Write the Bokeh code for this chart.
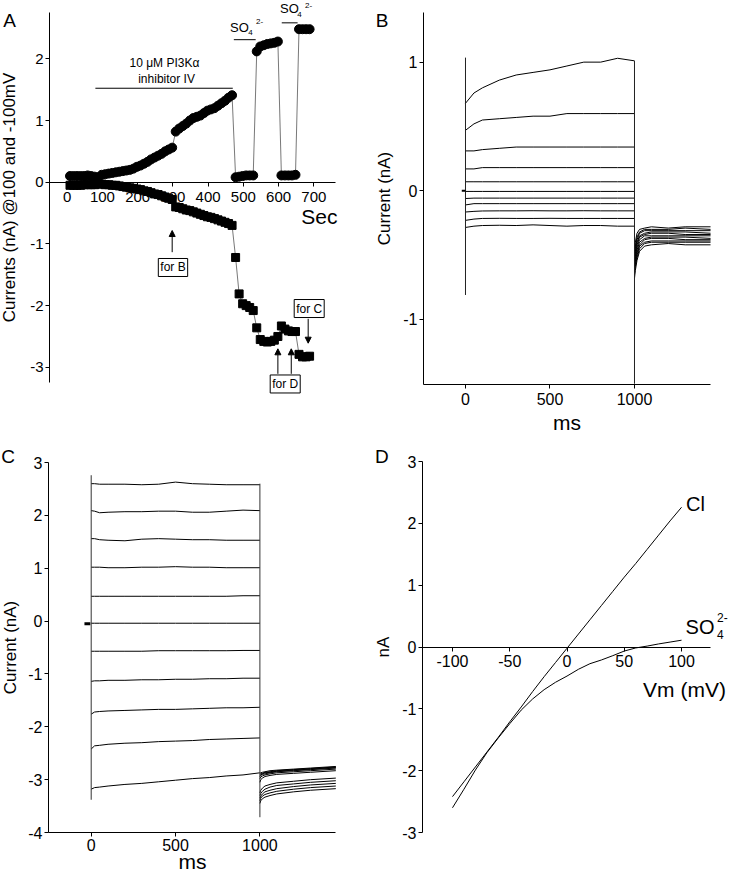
from bokeh.plotting import figure
from bokeh.layouts import column, row
from bokeh.models import Label, Arrow, NormalHead, Range1d
from bokeh.embed import file_html
from bokeh.resources import INLINE

FONT = "Liberation Sans"

# ---------------- Panel A data (time course) ----------------
A_time = [8, 18, 28, 38, 48, 58, 68, 78, 88, 98, 108, 118, 128, 138, 148, 158, 168, 178,
          188, 198, 208, 218, 228, 238, 248, 258, 268, 278, 288, 298, 308, 318, 328, 338,
          348, 358, 368, 378, 388, 398, 408, 418, 428, 438, 448, 458, 468, 478, 488, 498,
          508, 518, 528, 538, 548, 558, 568, 578, 588, 598, 608, 618, 628, 638, 648, 658,
          668, 678, 688]
A_pos100 = [0.10, 0.10, 0.10, 0.10, 0.10, 0.11, 0.10, 0.09, 0.08, 0.12, 0.13, 0.14, 0.15,
            0.16, 0.17, 0.18, 0.19, 0.20, 0.22, 0.25, 0.27, 0.30, 0.33, 0.37, 0.40, 0.43,
            0.46, 0.50, 0.53, 0.56, 0.82, 0.87, 0.91, 0.95, 1.00, 1.04, 1.06, 1.08, 1.12,
            1.16, 1.18, 1.20, 1.24, 1.28, 1.32, 1.37, 1.41, 0.08, 0.09, 0.10, 0.11, 0.11,
            0.11, 2.12, 2.20, 2.22, 2.24, 2.25, 2.26, 2.28, 0.11, 0.11, 0.11, 0.11, 0.12,
            2.48, 2.48, 2.48, 2.48]
A_neg100 = [-0.05, -0.05, -0.05, -0.05, -0.04, -0.04, -0.04, -0.04, -0.03, -0.03, -0.04,
            -0.04, -0.05, -0.05, -0.06, -0.07, -0.08, -0.09, -0.10, -0.11, -0.12, -0.14,
            -0.15, -0.17, -0.19, -0.20, -0.22, -0.24, -0.26, -0.28, -0.40, -0.41, -0.43,
            -0.45, -0.46, -0.48, -0.50, -0.52, -0.54, -0.56, -0.57, -0.59, -0.61, -0.63,
            -0.65, -0.67, -0.70, -1.22, -1.81, -1.97, -2.00, -2.03, -2.08, -2.36, -2.55,
            -2.58, -2.59, -2.58, -2.56, -2.50, -2.33, -2.38, -2.41, -2.42, -2.42, -2.79,
            -2.83, -2.83, -2.82]
A_xticks = [0, 100, 200, 300, 400, 500, 600, 700]
A_yticks = [-3, -2, -1, 0, 1, 2]

# ---------------- Panel B data (current traces, inhibitor) ----------------
B_t = [0, 50, 100, 200, 300, 400, 500, 600, 700, 800, 900, 1000]
B_steps = [
    [0.68, 0.76, 0.80, 0.86, 0.90, 0.92, 0.94, 0.97, 1.00, 1.00, 1.03, 1.01],
    [0.47, 0.52, 0.55, 0.56, 0.57, 0.58, 0.58, 0.60, 0.60, 0.60, 0.60, 0.60],
    [0.31, 0.31, 0.32, 0.33, 0.34, 0.34, 0.34, 0.34, 0.34, 0.34, 0.34, 0.34],
    [0.17, 0.17, 0.18, 0.18, 0.18, 0.18, 0.18, 0.18, 0.18, 0.18, 0.18, 0.18],
    [0.07, 0.07, 0.07, 0.07, 0.07, 0.07, 0.07, 0.07, 0.07, 0.07, 0.07, 0.07],
    [-0.005, -0.005, -0.005, -0.005, -0.005, -0.005, -0.005, -0.005, -0.005, -0.005, -0.005, -0.005],
    [-0.06, -0.057, -0.057, -0.057, -0.057, -0.057, -0.057, -0.057, -0.057, -0.057, -0.057, -0.057],
    [-0.11, -0.10, -0.10, -0.10, -0.10, -0.10, -0.10, -0.10, -0.10, -0.10, -0.10, -0.10],
    [-0.165, -0.16, -0.157, -0.156, -0.156, -0.155, -0.156, -0.156, -0.155, -0.156, -0.156, -0.156],
    [-0.23, -0.22, -0.215, -0.214, -0.215, -0.215, -0.214, -0.215, -0.215, -0.215, -0.215, -0.215],
    [-0.285, -0.275, -0.27, -0.268, -0.27, -0.265, -0.27, -0.275, -0.27, -0.27, -0.275, -0.275],
]
B_tail_t = [1000, 1005, 1015, 1030, 1060, 1100, 1200, 1300, 1450]
B_tails = [
    [-0.45, -0.40, -0.33, -0.30, -0.29, -0.28, -0.29, -0.28, -0.28],
    [-0.48, -0.43, -0.36, -0.32, -0.30, -0.30, -0.30, -0.29, -0.30],
    [-0.50, -0.45, -0.38, -0.33, -0.31, -0.31, -0.31, -0.31, -0.31],
    [-0.52, -0.47, -0.40, -0.35, -0.33, -0.32, -0.32, -0.32, -0.33],
    [-0.54, -0.49, -0.42, -0.36, -0.34, -0.33, -0.33, -0.34, -0.34],
    [-0.56, -0.51, -0.44, -0.38, -0.35, -0.35, -0.35, -0.35, -0.35],
    [-0.58, -0.53, -0.46, -0.40, -0.37, -0.36, -0.36, -0.36, -0.37],
    [-0.60, -0.55, -0.48, -0.42, -0.38, -0.37, -0.37, -0.38, -0.38],
    [-0.62, -0.57, -0.50, -0.43, -0.40, -0.39, -0.39, -0.39, -0.39],
    [-0.65, -0.59, -0.52, -0.45, -0.41, -0.40, -0.40, -0.40, -0.40],
    [-0.68, -0.62, -0.54, -0.47, -0.43, -0.42, -0.41, -0.42, -0.42],
]
B_transient_t = [0, 1000]
B_transient_top = [1.035, 1.01]
B_transient_bot = [-0.81, -1.50]
B_xticks = [0, 500, 1000]
B_yticks = [-1, 0, 1]

# ---------------- Panel C data (current traces, SO4) ----------------
C_t = [0, 20, 50, 100, 200, 300, 400, 500, 600, 700, 800, 900, 1000]
C_steps = [
    [2.60, 2.60, 2.59, 2.59, 2.59, 2.58, 2.59, 2.63, 2.60, 2.59, 2.58, 2.58, 2.58],
    [2.09, 2.08, 2.05, 2.06, 2.07, 2.07, 2.08, 2.08, 2.06, 2.06, 2.08, 2.10, 2.09],
    [1.56, 1.56, 1.54, 1.53, 1.52, 1.55, 1.56, 1.55, 1.54, 1.54, 1.53, 1.53, 1.53],
    [1.02, 1.02, 1.02, 1.01, 1.01, 1.02, 1.02, 1.03, 1.02, 1.02, 1.01, 1.01, 1.01],
    [0.47, 0.47, 0.47, 0.47, 0.47, 0.47, 0.47, 0.47, 0.47, 0.47, 0.47, 0.48, 0.48],
    [-0.04, -0.04, -0.04, -0.04, -0.04, -0.04, -0.04, -0.04, -0.04, -0.04, -0.04, -0.04, -0.04],
    [-0.57, -0.57, -0.57, -0.57, -0.57, -0.57, -0.56, -0.56, -0.56, -0.56, -0.56, -0.555, -0.555],
    [-1.14, -1.13, -1.13, -1.12, -1.12, -1.11, -1.11, -1.10, -1.10, -1.09, -1.09, -1.08, -1.08],
    [-1.76, -1.72, -1.71, -1.70, -1.69, -1.68, -1.67, -1.67, -1.66, -1.65, -1.64, -1.64, -1.63],
    [-2.42, -2.36, -2.35, -2.33, -2.31, -2.30, -2.28, -2.27, -2.26, -2.24, -2.23, -2.22, -2.21],
    [-3.18, -3.15, -3.14, -3.12, -3.09, -3.07, -3.04, -3.01, -2.98, -2.96, -2.93, -2.91, -2.87],
]
C_tail_t = [1000, 1005, 1015, 1030, 1060, 1100, 1200, 1300, 1450]
C_tails = [
    [-2.88, -2.87, -2.86, -2.85, -2.83, -2.82, -2.80, -2.78, -2.75],
    [-2.90, -2.89, -2.88, -2.86, -2.85, -2.83, -2.81, -2.79, -2.76],
    [-2.92, -2.91, -2.89, -2.87, -2.86, -2.84, -2.82, -2.80, -2.77],
    [-2.94, -2.92, -2.90, -2.89, -2.87, -2.85, -2.83, -2.81, -2.78],
    [-2.98, -2.95, -2.93, -2.91, -2.89, -2.87, -2.85, -2.83, -2.80],
    [-3.05, -3.00, -2.97, -2.94, -2.92, -2.90, -2.88, -2.86, -2.83],
    [-3.25, -3.20, -3.16, -3.12, -3.09, -3.06, -3.03, -3.00, -2.97],
    [-3.30, -3.26, -3.22, -3.18, -3.14, -3.11, -3.08, -3.05, -3.02],
    [-3.35, -3.31, -3.27, -3.23, -3.20, -3.17, -3.13, -3.10, -3.07],
    [-3.40, -3.35, -3.31, -3.28, -3.25, -3.22, -3.18, -3.15, -3.12],
    [-3.45, -3.40, -3.36, -3.33, -3.30, -3.27, -3.23, -3.20, -3.17],
]
C_transient_t = [0, 1000]
C_transient_top = [2.76, 2.60]
C_transient_bot = [-3.38, -3.71]
C_xticks = [0, 500, 1000]
C_yticks = [-4, -3, -2, -1, 0, 1, 2, 3]

# ---------------- Panel D data (I-V) ----------------
D_vm = [-100, -90, -80, -70, -60, -50, -40, -30, -20, -10, 0, 10, 20, 30, 40, 50, 60, 70, 80, 90, 100]
D_cl = [-2.42, -2.18, -1.94, -1.70, -1.46, -1.21, -0.97, -0.72, -0.48, -0.25, -0.02, 0.21,
        0.44, 0.67, 0.90, 1.13, 1.35, 1.58, 1.81, 2.04, 2.26]
D_so4 = [-2.60, -2.30, -1.99, -1.71, -1.47, -1.24, -1.02, -0.84, -0.69, -0.57, -0.47, -0.36,
         -0.27, -0.21, -0.14, -0.065, -0.015, 0.015, 0.05, 0.08, 0.11]
D_xticks = [-100, -50, 0, 50, 100]
D_yticks = [-3, -2, -1, 0, 1, 2, 3]


def make_fig(w, h, xr, yr):
    p = figure(width=w, height=h, x_range=Range1d(*xr), y_range=Range1d(*yr),
               output_backend="svg", toolbar_location=None,
               min_border_left=0, min_border_right=0, min_border_top=0, min_border_bottom=0)
    p.outline_line_color = None
    p.xgrid.grid_line_color = None
    p.ygrid.grid_line_color = None
    p.background_fill_color = "white"
    p.border_fill_color = "white"
    return p


def style_axes(p, tick_px, xticks, yticks, x_at, y_at, xbounds, ybounds):
    p.xaxis.ticker = xticks
    p.yaxis.ticker = yticks
    p.xaxis.major_label_overrides = {t: str(t) for t in xticks}
    p.yaxis.major_label_overrides = {t: str(t) for t in yticks}
    p.xaxis.fixed_location = x_at
    p.yaxis.fixed_location = y_at
    p.xaxis.bounds = xbounds
    p.yaxis.bounds = ybounds
    for ax in p.axis:
        ax.axis_line_color = "black"
        ax.axis_line_width = 1
        ax.major_tick_line_color = "black"
        ax.major_tick_out = 4
        ax.major_tick_in = 0
        ax.minor_tick_line_color = None
        ax.major_label_text_font = FONT
        ax.major_label_text_font_size = f"{tick_px}px"
        ax.major_label_text_color = "black"
        ax.major_label_standoff = 2
        ax.axis_label_text_font = FONT
        ax.axis_label_text_font_style = "normal"
        ax.axis_label_text_font_size = "17px"
        ax.axis_label_text_color = "black"


def lab(p, x, y, text, size, align="center", baseline="middle", **kw):
    p.add_layout(Label(x=x, y=y, text=text, text_font=FONT, text_font_size=f"{size}px",
                       text_align=align, text_baseline=baseline, text_color="black", **kw))


# ================= Panel A =================
pA = make_fig(370, 440, (-189.3, 860.9), (-4.186, 2.945))
style_axes(pA, 15, A_xticks, A_yticks, 0, -50.2, (-50.2, 761.6), (-3.246, 2.75))
pA.xaxis.major_label_standoff = 6
pA.yaxis.axis_label = "Currents (nA) @100 and -100mV"
pA.yaxis.axis_label_standoff = 8
pA.line(A_time, A_pos100, line_color="#555555", line_width=0.8)
pA.line(A_time, A_neg100, line_color="#555555", line_width=0.8)
pA.scatter(A_time, A_pos100, marker="circle", size=9, color="black")
pA.scatter(A_time, A_neg100, marker="square", size=8, color="black")
# inhibitor bar and label
pA.segment(x0=[80], y0=[1.523], x1=[470], y1=[1.523], line_color="black", line_width=1)
lab(pA, 276, 1.924, "10 μM PI3Kα", 12)
lab(pA, 282, 1.665, "inhibitor IV", 12)
# SO4 bars and labels
pA.segment(x0=[473, 609], y0=[2.31, 2.583], x1=[535, 654], y1=[2.31, 2.583],
           line_color="black", line_width=1)
lab(pA, 489, 2.507, "SO", 13)
lab(pA, 520, 2.43, "4", 8)
lab(pA, 546, 2.61, "2-", 8)
lab(pA, 631, 2.81, "SO", 13)
lab(pA, 659, 2.715, "4", 8)
lab(pA, 685, 2.864, "2-", 8)
lab(pA, 716, -0.556, "Sec", 21)
lab(pA, -163.8, 2.62, "A", 19)
# arrows and boxes
head = dict(size=6, fill_color="black", line_color="black")
pA.add_layout(Arrow(end=NormalHead(**head), x_start=298, y_start=-1.134, x_end=298, y_end=-0.783, line_width=1))
pA.add_layout(Arrow(end=NormalHead(**head), x_start=598, y_start=-3.105, x_end=598, y_end=-2.70, line_width=1))
pA.add_layout(Arrow(end=NormalHead(**head), x_start=636, y_start=-3.105, x_end=636, y_end=-2.70, line_width=1))
pA.add_layout(Arrow(end=NormalHead(**head), x_start=684, y_start=-2.214, x_end=684, y_end=-2.609, line_width=1))
box = dict(border_line_color="black", border_line_width=1, background_fill_color="white", padding=2)
lab(pA, 300.3, -1.382, "for B", 12, **box)
lab(pA, 618.8, -3.27, "for D", 12, **box)
lab(pA, 686.9, -2.047, "for C", 12, **box)

# ================= Panel B =================
pB = make_fig(366, 440, (-562.1, 1603.6), (-1.941, 1.479))
style_axes(pB, 16, B_xticks, B_yticks, -1.502, -248.5, (-248.5, 1450), (-1.502, 1.385))
pB.xaxis.major_label_standoff = 5
pB.yaxis.axis_label = "Current (nA)"
pB.yaxis.axis_label_standoff = 6
pB.xaxis.axis_label = "ms"
pB.xaxis.axis_label_text_font_size = "21px"
pB.xaxis.axis_label_standoff = 2
pB.multi_line([B_t] * len(B_steps), B_steps, line_color="black", line_width=1)
pB.multi_line([B_tail_t] * len(B_tails), B_tails, line_color="black", line_width=1)
pB.segment(x0=B_transient_t, y0=B_transient_top, x1=B_transient_t, y1=B_transient_bot,
           line_color="#222222", line_width=1)
pB.segment(x0=[-22], y0=[0], x1=[0], y1=[0], line_color="black", line_width=2)
lab(pB, -494, 1.324, "B", 19)

# ================= Panel C =================
pC = make_fig(370, 433, (-537.6, 1655.6), (-4.775, 3.417))
style_axes(pC, 16, C_xticks, C_yticks, -4, -253, (-253, 1448), (-4, 3))
pC.xaxis.major_label_standoff = 2
pC.yaxis.axis_label = "Current (nA)"
pC.yaxis.axis_label_standoff = 5
pC.multi_line([C_t] * len(C_steps), C_steps, line_color="black", line_width=1)
pC.multi_line([C_tail_t] * len(C_tails), C_tails, line_color="black", line_width=1)
pC.segment(x0=C_transient_t, y0=C_transient_top, x1=C_transient_t, y1=C_transient_bot,
           line_color="#333333", line_width=1)
pC.segment(x0=[-40], y0=[-0.05], x1=[-5], y1=[-0.05], line_color="black", line_width=3)
lab(pC, 600, -4.548, "ms", 21)
lab(pC, -493, 3.114, "C", 19)

# ================= Panel D =================
pD = make_fig(366, 433, (-171.6, 148.0), (-3.663, 3.340))
style_axes(pD, 16, D_xticks, D_yticks, 0, -126.2, (-126.2, 125.3), (-3, 3))
pD.xaxis.major_label_standoff = 4
pD.yaxis.axis_label = "nA"
pD.yaxis.axis_label_standoff = 6
pD.line(D_vm, D_cl, line_color="black", line_width=1)
pD.line(D_vm, D_so4, line_color="black", line_width=1)
lab(pD, 112.2, 2.32, "Cl", 20)
lab(pD, 103.5, 0.33, "SO", 20, align="left")
lab(pD, 131.0, 0.20, "4", 12, align="left")
lab(pD, 131.0, 0.47, "2-", 12, align="left")
lab(pD, 102.6, -0.687, "Vm (mV)", 21)
lab(pD, -161.6, 3.081, "D", 19)

layout = column(row(pA, pB), row(pC, pD))
open("out.html", "w").write(file_html(layout, INLINE))
